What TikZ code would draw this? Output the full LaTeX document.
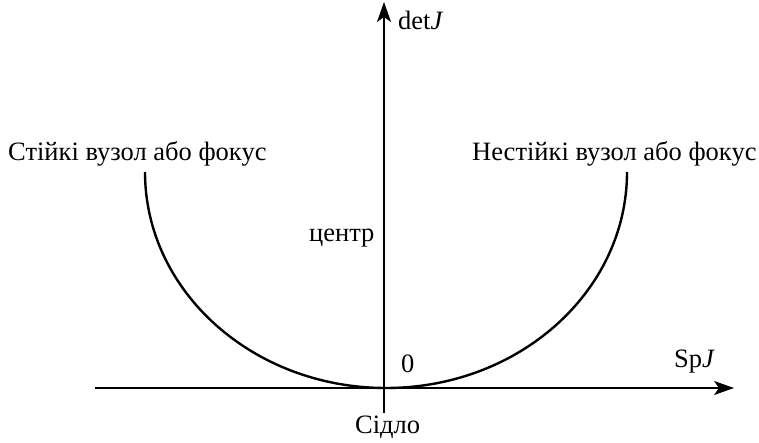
\documentclass[tikz,border=0pt]{standalone}
\usepackage{fontspec}
\setmainfont{Liberation Serif}
\usetikzlibrary{arrows.meta,positioning}

\begin{document}
\begin{tikzpicture}[
  x=1pt, y=-1pt,
  every node/.style={font=\fontsize{26.5}{31}\selectfont, inner sep=0pt},
  axis/.style={line width=1.4pt, -{Stealth[length=20pt, width=14pt, inset=5pt]}},
  curve/.style={line width=2.4pt},
  lbl/.style={anchor=base west}
]
\useasboundingbox (0,0) rectangle (759,443);

% axes
\coordinate (O) at (384,388);
\coordinate (xs) at (95,388);
\coordinate (xe) at (734,388);
\coordinate (ys) at (384,413);
\coordinate (ye) at (384,2);
\draw[axis] (xs) -- (xe);
\draw[axis] (ys) -- (ye);

% curve
\draw[curve] (145,172) arc[start angle=180, end angle=360, x radius=241, y radius=-216];

% labels
\node[lbl] (det) at (398,30) {det\textit{J}};
\node[lbl] (sp) at (674,367) {Sp\textit{J}};
\node[lbl] (zero) at (401,372) {0};
\node[lbl] (stable) at (8,161) {Стійкі вузол або фокус};
\node[lbl] (unstable) at (472,161) {Нестійкі вузол або фокус};
\node[lbl] (centre) at (309,242) {центр};
\node[lbl] (saddle) at (355,433) {Сідло};
\end{tikzpicture}
\end{document}
